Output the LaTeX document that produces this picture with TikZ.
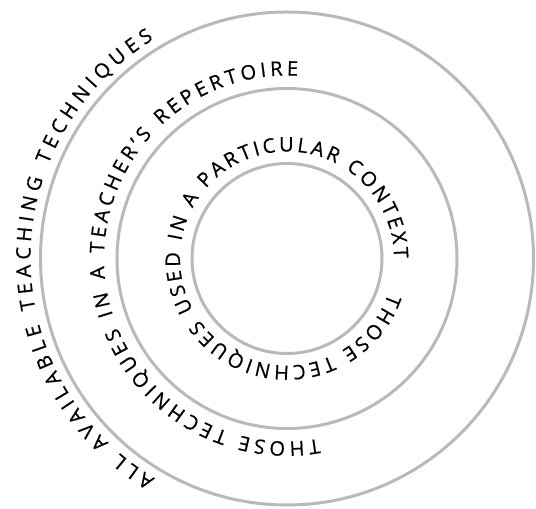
\documentclass[tikz,border=0pt]{standalone}
\usepackage{fontspec}
\setmainfont{Open Sans}
\newfontfamily\ringfont[Scale=2.0,FakeBold=0.6]{Open Sans}
\usetikzlibrary{decorations.text}

\definecolor{ringgray}{HTML}{B9B9B9}

\tikzset{
  ring/.style={draw=ringgray, line width=3pt},   % the grey circles
  ringtext/.style={decorate, decoration={text along path,
      text align=fit to path, text={|\ringfont|#1}}}
}

\begin{document}
\begin{tikzpicture}[x=1pt,y=1pt]
	\useasboundingbox (0,0) rectangle (536,509);
	\coordinate (c) at (287,250.5);

	% circles
	\draw[ring] (c) circle[radius=95pt];
	\draw[ring] (c) circle[radius=170pt];
	\draw[ring] (c) circle[radius=246.5pt];

	% inner text
	\path[ringtext={THOSE TECHNIQUES USED IN A PARTICULAR CONTEXT}]
		(c) ++(-19:107pt) arc[start angle=-19, end angle=-360, radius=107pt];
	% middle text
	\path[ringtext={THOSE TECHNIQUES IN A TEACHER’S REPERTOIRE}]
		(c) ++(-80:183pt) arc[start angle=-80, end angle=-273.4, radius=183pt];
	% outer text
	\path[ringtext={ALL AVAILABLE TEACHING TECHNIQUES}]
		(c) ++(-121:256.5pt) arc[start angle=-121, end angle=-238.7, radius=256.5pt];

\end{tikzpicture}
\end{document}
